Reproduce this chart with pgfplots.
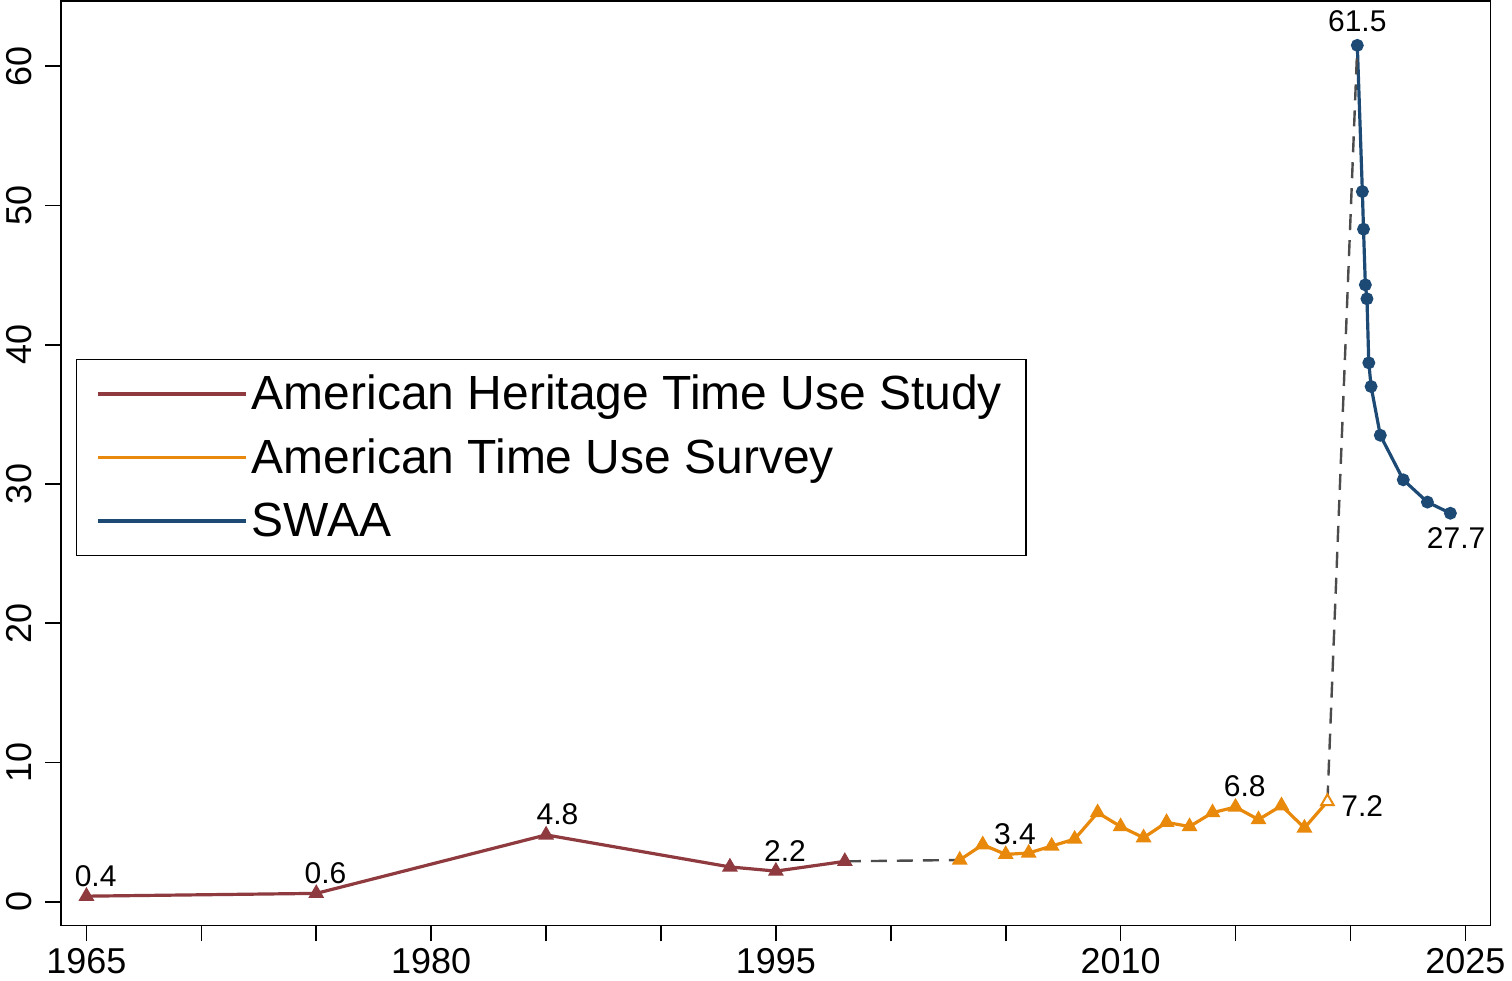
\documentclass[border=0pt]{standalone}
\usepackage{pgfplots}
\pgfplotsset{compat=1.18}
\usepackage{fontspec}
\setmainfont{Liberation Sans}
\definecolor{cred}{HTML}{8E3A3F}
\definecolor{corg}{HTML}{E8890C}
\definecolor{cblu}{HTML}{1D4A75}
\tikzset{lbl/.style={font=\fontsize{15}{17}\selectfont}}
\begin{document}
\begin{tikzpicture}
\begin{axis}[scale only axis, width=715pt, height=462.5pt, clip=false,
 xmin=1963.9, xmax=2026.1, ymin=-1.7, ymax=64.7,
 xtick={1965,1980,1995,2010,2025}, minor xtick={1970,1975,1985,1990,2000,2005,2015,2020},
 ytick={0,10,20,30,40,50,60},
 /pgf/number format/assume math mode=true,
 /pgf/number format/1000 sep={},
 tick label style={font=\fontsize{18}{21}\selectfont},
 yticklabel style={rotate=90, anchor=south, yshift=3pt},
 xtick pos=bottom, ytick pos=left, tick align=outside,
 major tick length=8pt, minor tick length=8pt,
 every tick/.style={black, line width=0.8pt}, axis line style={line width=0.8pt},
 legend style={at={(0.0105,0.613)}, anchor=north west, font=\fontsize{24}{28}\selectfont, draw=black, line width=0.6pt, row sep=9pt, inner xsep=10pt, inner ysep=6pt, /tikz/every even column/.append style={column sep=14pt}},
 legend cell align=left,
 legend image code/.code={\draw[#1, line width=1.6pt] (0cm,0cm) -- (2.6cm,0cm);},
]
\addplot[cred, line width=1.6pt, mark=triangle*, mark size=3pt] coordinates {(1965,0.4)(1975,0.6)(1985,4.8)(1993,2.5)(1995,2.2)(1998,2.9)};
\addlegendentry{American Heritage Time Use Study}
\addplot[corg, line width=1.6pt, mark=triangle*, mark size=3pt] coordinates {(2003,3.0)(2004,4.1)(2005,3.4)(2006,3.5)(2007,4.0)(2008,4.5)(2009,6.4)(2010,5.4)(2011,4.6)(2012,5.7)(2013,5.4)(2014,6.4)(2015,6.8)(2016,5.9)(2017,6.9)(2018,5.3)(2019,7.2)};
\addlegendentry{American Time Use Survey}
\addplot[cblu, line width=1.6pt, mark=*, mark size=2.4pt] coordinates {(2020.3,61.5)(2020.52,51.0)(2020.57,48.3)(2020.65,44.3)(2020.72,43.3)(2020.8,38.7)(2020.9,37.0)(2021.3,33.5)(2022.3,30.3)(2023.35,28.7)(2024.35,27.9)};
\addlegendentry{SWAA}
\addplot[black!70, line width=1.2pt, dash pattern=on 8pt off 5pt, forget plot] coordinates {(1998,2.9)(2003,3.0)};
\addplot[black!70, line width=1.2pt, dash pattern=on 8pt off 5pt, forget plot] coordinates {(2019,7.2)(2020.3,61.5)};
\addplot[corg, only marks, mark=triangle*, mark options={fill=white}, mark size=3pt, forget plot] coordinates {(2019,7.2)};
\node[lbl,above] at (axis cs:1965.4,0.6) {0.4};
\node[lbl,above] at (axis cs:1975.4,0.8) {0.6};
\node[lbl,above] at (axis cs:1985.5,5.0) {4.8};
\node[lbl,above] at (axis cs:1995.4,2.4) {2.2};
\node[lbl,above] at (axis cs:2005.4,3.6) {3.4};
\node[lbl,above] at (axis cs:2015.4,7.0) {6.8};
\node[lbl,right] at (axis cs:2019.3,6.9) {7.2};
\node[lbl,above] at (axis cs:2020.3,62.0) {61.5};
\node[lbl,below] at (axis cs:2024.6,27.4) {27.7};
\end{axis}
\end{tikzpicture}
\end{document}
